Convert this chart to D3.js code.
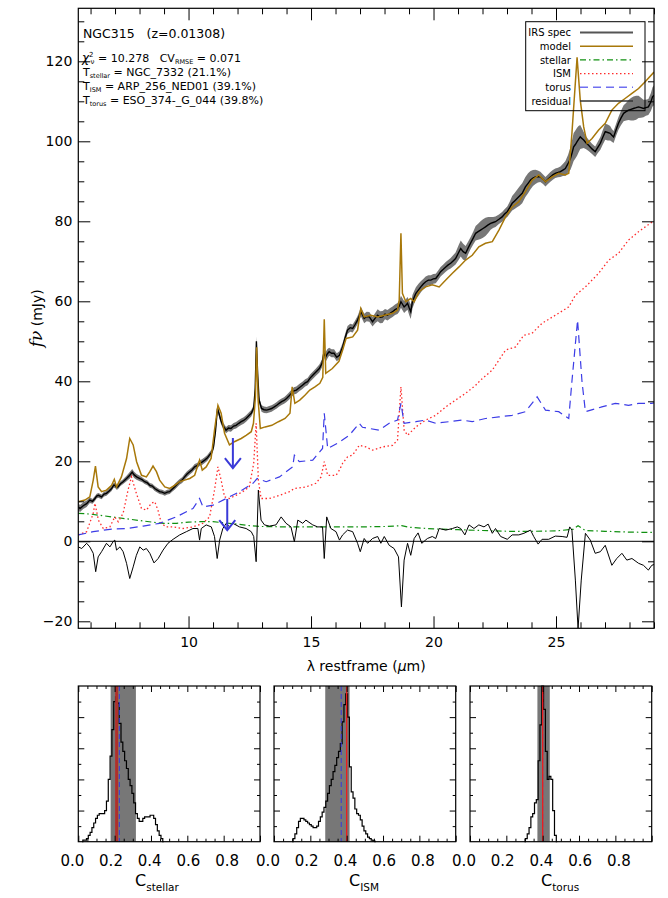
<!DOCTYPE html>
<meta charset="utf-8">
<style>
  body { margin: 0; background: #fff; }
  svg { display: block; }
  text { font-family: "DejaVu Sans", sans-serif; fill: #000; white-space: pre; }
</style>
<body>
<script src="https://d3js.org/d3.v7.min.js"></script>
<script>

// ---- spectrum data ----
var irsWave = [5.50,5.57,5.70,5.84,5.97,6.08,6.18,6.25,6.32,6.45,6.55,6.65,6.76,6.86,6.94,7.00,7.06,7.12,7.22,7.33,7.47,7.60,7.70,7.78,7.88,8.01,8.10,8.21,8.32,8.42,8.52,8.62,8.72,8.82,8.92,9.03,9.13,9.23,9.33,9.43,9.54,9.64,9.74,9.84,9.94,10.05,10.15,10.25,10.35,10.45,10.55,10.66,10.76,10.86,10.95,11.02,11.10,11.18,11.24,11.32,11.40,11.53,11.63,11.73,11.84,11.94,12.05,12.15,12.25,12.35,12.46,12.56,12.66,12.72,12.77,12.82,12.88,12.98,13.08,13.19,13.29,13.39,13.50,13.60,13.70,13.80,13.90,14.00,14.10,14.20,14.30,14.40,14.52,14.65,14.76,14.86,14.96,15.07,15.20,15.34,15.45,15.52,15.60,15.67,15.74,15.84,15.94,16.05,16.16,16.29,16.40,16.49,16.60,16.70,16.80,16.90,17.04,17.17,17.27,17.38,17.51,17.62,17.72,17.82,17.92,18.02,18.12,18.23,18.33,18.43,18.53,18.60,18.67,18.74,18.80,18.87,18.94,19.01,19.07,19.14,19.21,19.28,19.38,19.48,19.58,19.68,19.79,19.89,19.99,20.09,20.19,20.29,20.40,20.50,20.60,20.70,20.80,20.90,21.01,21.11,21.21,21.31,21.41,21.51,21.62,21.72,21.82,21.92,22.02,22.12,22.23,22.33,22.43,22.53,22.67,22.80,22.90,23.01,23.11,23.21,23.31,23.41,23.51,23.62,23.75,23.86,23.96,24.06,24.16,24.26,24.36,24.47,24.57,24.67,24.77,24.87,24.97,25.08,25.18,25.28,25.38,25.49,25.59,25.66,25.72,25.79,25.86,25.92,25.99,26.06,26.13,26.23,26.33,26.47,26.60,26.70,26.81,26.91,27.01,27.11,27.21,27.28,27.35,27.45,27.55,27.65,27.76,27.86,27.96,28.06,28.16,28.27,28.37,28.47,28.57,28.67,28.77,28.87,28.94,29.00];
var irsFlux = [8.6,8.2,8.9,9.4,10.3,10.0,10.7,11.3,11.5,11.1,11.8,12.0,12.6,13.2,14.0,14.0,13.5,13.6,14.4,14.9,15.7,16.5,17.3,16.6,16.1,15.7,15.4,14.9,14.6,14.0,13.8,13.2,12.8,12.4,12.3,12.0,12.3,12.4,13.0,13.6,14.3,14.9,15.3,16.1,16.8,17.4,17.9,18.6,18.9,19.5,19.8,20.3,20.8,21.6,22.3,23.6,27.5,33.2,32.0,30.2,29.0,27.8,28.3,28.2,28.8,29.0,29.5,29.9,30.2,30.7,31.4,32.0,33.3,38.0,50.0,42.0,35.3,33.2,32.9,32.8,33.0,33.2,33.6,34.0,34.5,34.9,35.2,35.7,36.3,37.0,37.6,37.8,38.4,39.0,39.6,39.9,40.8,41.5,42.3,43.2,44.5,47.0,46.1,46.9,47.4,47.0,47.0,46.0,46.5,48.6,51.0,52.8,53.4,53.2,54.2,55.3,57.4,55.7,56.2,56.1,54.9,55.8,56.5,56.0,56.1,56.8,56.5,57.0,57.4,57.9,58.2,58.8,59.9,59.2,58.6,59.0,59.5,58.3,57.4,59.9,61.0,62.0,62.8,63.6,64.3,64.9,65.3,65.3,65.6,65.7,66.5,67.4,68.0,68.6,69.1,69.5,70.1,70.7,72.0,73.2,72.4,72.0,73.3,74.5,75.8,77.0,77.4,77.8,78.2,78.6,79.1,79.5,79.7,79.9,80.5,81.1,81.8,82.4,83.4,84.5,85.1,85.7,86.3,87.0,88.6,89.5,90.3,90.8,91.1,91.2,91.1,90.5,89.9,90.5,91.1,91.6,92.0,92.2,92.4,92.8,93.2,94.4,95.7,97.2,98.6,99.2,99.9,100.5,101.1,100.7,100.3,99.6,99.0,98.1,97.4,98.4,99.5,101.0,102.4,102.2,102.0,101.5,101.1,102.8,104.5,105.8,107.0,107.4,107.8,108.0,108.2,108.4,108.6,108.4,108.2,108.4,108.6,109.8,111.1,111.5];
var irsErr = [0.9,0.9,0.8,0.8,0.7,0.6,0.6,0.6,0.6,0.6,0.6,0.6,0.6,0.6,0.6,0.6,0.6,0.6,0.6,0.6,0.7,0.8,0.8,0.8,0.7,0.7,0.6,0.6,0.6,0.6,0.6,0.6,0.6,0.6,0.6,0.6,0.6,0.6,0.6,0.7,0.7,0.7,0.7,0.7,0.7,0.7,0.7,0.7,0.7,0.7,0.7,0.7,0.7,0.7,0.7,0.8,0.8,0.8,0.8,0.8,0.8,0.8,0.8,0.8,0.8,0.8,0.8,0.8,0.8,0.8,0.8,0.8,0.8,1.0,1.2,1.0,0.8,0.8,0.8,0.8,0.8,0.8,0.8,0.8,0.8,0.8,0.8,0.9,0.9,0.9,0.9,0.9,0.9,0.9,0.9,0.9,0.9,0.9,0.9,1.0,1.0,1.0,1.2,1.2,1.0,1.0,1.0,1.0,1.0,1.0,1.0,1.0,1.0,1.0,1.0,1.0,1.2,1.2,1.2,1.2,1.2,1.3,1.5,1.5,1.5,1.3,1.3,1.3,1.3,1.3,1.4,1.4,1.5,1.5,1.5,1.5,1.6,1.8,1.8,1.7,1.6,1.5,1.5,1.4,1.3,1.3,1.2,1.2,1.2,1.2,1.2,1.2,1.2,1.2,1.2,1.3,1.4,1.5,1.8,2.0,2.0,1.8,1.6,1.5,1.6,1.8,2.0,2.2,2.3,2.3,2.0,1.6,1.4,1.3,1.2,1.2,1.2,1.3,1.5,1.8,2.0,2.2,2.4,2.5,2.5,2.5,2.3,2.0,1.8,1.5,1.3,1.2,1.2,1.2,1.2,1.2,1.2,1.2,1.3,1.5,1.8,2.2,2.8,3.2,3.5,3.5,3.5,3.3,3.0,2.5,2.0,1.6,1.4,1.3,1.3,1.4,1.6,1.8,2.0,2.0,1.8,1.6,1.5,1.5,1.6,1.8,2.0,2.2,2.5,2.8,3.0,3.0,2.8,2.5,2.2,2.0,2.0,2.2,2.4,2.5];

var modelWave = [5.50,5.77,5.97,6.11,6.20,6.31,6.45,6.65,6.86,6.97,7.06,7.26,7.47,7.60,7.74,7.88,8.08,8.28,8.42,8.55,8.69,8.82,9.03,9.23,9.43,9.64,9.84,10.05,10.25,10.45,10.56,10.72,10.92,11.06,11.20,11.33,11.47,11.67,11.87,12.15,12.35,12.56,12.65,12.73,12.78,12.84,12.93,13.13,13.40,13.67,13.94,14.14,14.23,14.34,14.54,14.75,14.95,15.16,15.36,15.48,15.54,15.60,15.87,16.14,16.30,16.43,16.70,16.90,17.03,17.17,17.44,17.72,17.99,18.33,18.53,18.60,18.67,18.73,18.87,19.07,19.21,19.41,19.68,19.95,20.23,20.50,20.77,21.04,21.31,21.58,21.85,22.12,22.40,22.67,22.94,23.21,23.48,23.75,24.03,24.30,24.57,24.84,25.11,25.38,25.52,25.65,25.86,25.99,26.13,26.27,26.47,26.74,27.01,27.28,27.55,27.82,28.10,28.37,28.64,29.00];
var modelFlux = [9.9,10.3,11.1,15.3,18.8,13.6,12.4,12.8,14.0,15.5,13.6,16.1,20.7,25.7,24.1,19.9,16.5,16.1,17.4,18.8,17.4,15.3,13.6,13.2,14.0,14.9,15.3,15.7,16.5,20.3,17.8,18.6,20.7,27.8,34.0,32.0,27.0,24.1,24.9,25.7,26.5,27.4,29.5,36.1,48.5,35.3,28.2,28.6,29.0,29.9,30.7,32.0,38.6,34.5,35.3,36.5,37.8,38.6,39.5,41.0,55.5,42.0,43.2,45.0,48.0,50.7,51.1,52.8,58.2,56.1,56.5,56.1,56.5,57.0,57.8,60.3,77.0,62.0,59.9,60.7,59.9,62.4,63.6,64.1,63.6,65.3,67.0,68.6,70.3,71.5,73.6,74.5,74.9,77.8,81.1,83.6,84.9,87.4,90.3,91.6,89.9,91.1,92.0,91.6,92.0,102.0,121.0,110.3,103.6,99.5,100.7,102.8,104.5,107.8,109.5,110.7,112.0,113.2,114.9,117.3];

var stellarWave = [5.5,6.0,6.5,7.0,7.5,8.0,8.5,9.0,9.5,10.0,10.5,11.0,11.5,12.0,12.5,13.0,14.0,15.0,16.0,17.0,18.0,18.7,19.0,20.0,21.0,22.0,23.0,24.0,25.0,25.7,25.9,26.2,27.0,28.0,29.0];
var stellarFlux = [7.0,6.8,6.4,6.0,5.6,5.2,4.8,4.5,4.5,4.8,4.9,4.9,4.6,4.3,3.9,3.7,3.6,3.6,3.6,3.6,3.7,3.9,3.5,3.1,2.9,2.7,2.5,2.5,2.6,3.0,3.9,2.7,2.5,2.3,2.2];

var ismWave = [5.5,5.84,6.11,6.18,6.32,6.52,6.79,6.99,7.13,7.33,7.53,7.67,7.87,8.08,8.28,8.48,8.62,8.75,8.89,9.09,9.36,9.77,10.18,10.59,10.86,11.06,11.20,11.33,11.47,11.67,11.94,12.21,12.48,12.66,12.76,12.85,12.96,13.30,13.71,14.12,14.32,14.80,15.20,15.41,15.54,15.68,16.02,16.16,16.29,16.49,16.70,16.97,17.24,17.51,17.92,18.33,18.53,18.67,18.80,18.94,19.28,19.68,20.09,20.50,20.90,21.31,21.72,21.92,22.40,22.94,23.35,23.68,24.02,24.43,24.97,25.52,25.79,26.20,26.74,27.15,27.55,27.96,28.37,28.94];
var ismFlux = [1.6,2.4,7.0,9.5,5.3,3.2,3.6,6.1,4.9,7.0,12.8,16.1,12.0,8.2,7.8,9.5,9.9,7.8,4.5,3.6,3.6,3.2,3.6,4.5,6.1,12.8,18.6,15.3,11.1,10.7,11.5,12.4,13.6,19.5,29.5,15.3,10.7,10.7,11.5,12.4,13.2,13.6,14.5,16.1,19.9,16.5,16.5,17.8,19.5,21.1,21.6,24.0,23.6,22.8,23.6,24.0,25.3,38.6,27.8,26.5,28.6,30.3,31.5,33.6,35.3,37.0,39.0,40.3,42.8,47.8,48.6,51.5,52.0,54.5,56.5,58.6,61.5,63.6,67.0,70.3,72.0,75.3,77.4,79.9];

var torusWave = [5.5,6.11,6.79,7.47,8.15,8.82,9.5,10.18,10.45,10.59,11.0,11.54,12.08,12.63,12.8,13.17,13.71,14.25,14.32,14.52,15.07,15.47,15.54,15.68,16.16,16.56,16.97,17.10,17.38,17.78,18.19,18.53,18.67,18.80,19.28,19.68,20.09,20.63,21.18,21.58,22.12,22.67,23.21,23.75,24.23,24.57,25.11,25.52,25.65,25.88,26.06,26.20,26.87,27.42,27.96,28.37,28.91,29.0];
var torusFlux = [1.6,2.4,3.0,3.2,3.8,4.5,6.1,8.2,10.7,8.6,9.05,10.7,12.4,14.5,15.7,14.9,16.1,18.6,21.5,19.9,20.3,23.2,32.0,23.2,24.8,26.5,29.5,28.5,28.2,27.8,29.5,30.3,34.5,29.5,29.9,30.3,29.5,29.9,30.3,29.9,30.7,31.1,31.5,32.4,36.1,32.8,32.4,30.7,40.0,55.3,40.0,32.4,33.6,34.5,34.0,34.5,34.5,34.6];

var residWave = [5.50,5.64,5.84,5.97,6.11,6.21,6.31,6.45,6.65,6.79,6.92,6.99,7.06,7.20,7.33,7.47,7.60,7.74,7.87,8.01,8.15,8.28,8.42,8.59,8.76,8.96,9.16,9.37,9.64,9.91,10.18,10.38,10.45,10.52,10.72,10.93,11.06,11.17,11.27,11.40,11.54,11.67,11.81,12.08,12.35,12.56,12.66,12.76,12.85,12.96,13.10,13.30,13.57,13.78,13.98,14.18,14.32,14.46,14.66,14.79,15.07,15.27,15.47,15.54,15.64,15.81,16.02,16.16,16.29,16.49,16.70,16.90,17.01,17.17,17.31,17.51,17.72,17.85,17.99,18.19,18.39,18.57,18.69,18.80,18.94,19.07,19.21,19.37,19.52,19.75,19.95,20.09,20.23,20.50,20.77,20.97,21.11,21.28,21.45,21.65,21.85,22.06,22.23,22.40,22.53,22.74,23.01,23.21,23.48,23.69,23.96,24.09,24.27,24.43,24.70,24.97,25.25,25.45,25.56,25.65,25.79,25.90,26.03,26.20,26.40,26.60,26.81,27.01,27.28,27.48,27.69,27.89,28.10,28.37,28.57,28.77,28.91,29.00];
var residFlux = [-1.4,-1.8,-0.5,-1.4,-3.0,-7.6,-3.9,-2.6,-0.5,-1.4,-0.1,0.3,-2.2,-1.4,-2.6,-5.5,-9.3,-6.4,-3.5,-1.4,-2.2,-1.8,-3.0,-5.4,-4.3,-2.2,-0.5,0.5,1.6,2.4,3.2,3.2,0.3,3.2,4.1,3.6,1.2,-4.3,0.3,3.2,4.5,3.6,4.5,3.6,3.2,2.4,1.2,-5.1,12.8,5.3,4.1,3.8,4.1,6.1,4.5,3.6,-0.1,5.3,4.5,5.3,4.1,3.6,3.6,-4.3,6.1,3.2,2.4,0.3,1.6,2.8,2.4,-0.5,-2.6,0.7,-0.5,0.7,1.2,-0.5,1.2,-1.0,-1.8,-3.9,-16.4,-4.7,-0.5,-3.5,0.7,2.1,-0.5,0.7,1.2,0.7,3.2,2.8,3.2,3.6,3.2,1.6,4.1,3.2,4.1,3.6,4.3,2.0,3.2,1.2,0.5,1.6,1.6,2.0,2.8,1.2,-0.7,0.5,0.5,1.3,1.2,1.0,3.6,2.8,-9.7,-21.8,-9.7,2.0,0.3,-3.0,-2.6,-1.0,-6.0,-4.3,-3.0,-4.7,-4.3,-5.5,-6.0,-7.2,-6.0,-5.8];

// blue arrows (wavelength, start flux, tip flux)
var arrowWave = [11.81, 11.58];
var arrowFrom = [25.8, 10.6];
var arrowTo = [18.3, 2.8];

var legendLabels = ["IRS spec", "model", "stellar", "ISM", "torus", "residual"];

// ---- histogram data (bin centres, normalised counts) ----
var stellarBins = [0.02,0.03,0.04,0.05,0.06,0.07,0.08,0.09,0.10,0.11,0.12,0.13,0.14,0.15,0.16,0.17,0.18,0.19,0.20,0.21,0.22,0.23,0.24,0.25,0.26,0.27,0.28,0.29,0.30,0.31,0.32,0.33,0.34,0.35,0.36,0.37,0.38,0.39,0.40,0.41,0.42,0.43,0.44,0.45,0.46,0.47];
var stellarHist = [0,0.01,0.01,0.02,0.04,0.06,0.09,0.12,0.15,0.17,0.18,0.18,0.18,0.20,0.26,0.40,0.55,0.72,0.90,0.93,0.89,0.76,0.64,0.58,0.52,0.47,0.40,0.36,0.31,0.25,0.18,0.15,0.13,0.13,0.15,0.16,0.16,0.16,0.17,0.17,0.15,0.11,0.07,0.04,0.02,0];
var ismBins = [0.10,0.11,0.12,0.13,0.14,0.15,0.16,0.17,0.18,0.19,0.20,0.21,0.22,0.23,0.24,0.25,0.26,0.27,0.28,0.29,0.30,0.31,0.32,0.33,0.34,0.35,0.36,0.37,0.38,0.39,0.40,0.41,0.42,0.43,0.44,0.45,0.46,0.47,0.48,0.49,0.50,0.51,0.52,0.53,0.54,0.55,0.56];
var ismHist = [0,0.02,0.05,0.09,0.13,0.15,0.15,0.14,0.13,0.12,0.11,0.10,0.09,0.09,0.10,0.13,0.16,0.19,0.22,0.26,0.31,0.36,0.40,0.45,0.49,0.54,0.58,0.63,0.77,0.88,0.95,0.80,0.48,0.32,0.28,0.21,0.18,0.17,0.14,0.10,0.07,0.05,0.03,0.02,0.01,0.005,0];
var torusBins = [0.30,0.31,0.32,0.33,0.34,0.35,0.36,0.37,0.38,0.39,0.40,0.41,0.42,0.43,0.44,0.45,0.46,0.47,0.48];
var torusHist = [0,0.02,0.05,0.09,0.16,0.18,0.25,0.27,0.52,0.75,1.00,0.85,0.58,0.40,0.42,0.40,0.20,0.04,0];

var panelNames = ["stellar", "ISM", "torus"];
var panelBest = [0.211, 0.400, 0.400];
var panelMedian = [0.226, 0.370, 0.400];
var panelLow = [0.178, 0.282, 0.371];
var panelHigh = [0.317, 0.416, 0.439];

// ---- set up ----
var svg = d3.select("body").append("svg").attr("width", 668).attr("height", 898);

var m = {left: 78.3, right: 654, top: 8.3, bottom: 628.3};
var x = d3.scaleLinear().domain([5.5, 29.0]).range([m.left, m.right]);
var y = d3.scaleLinear().domain([-21.75, 133.25]).range([m.bottom, m.top]);

svg.append("clipPath").attr("id", "clip").append("rect")
    .attr("x", m.left).attr("y", m.top)
    .attr("width", m.right - m.left).attr("height", m.bottom - m.top);

var plot = svg.append("g").attr("clip-path", "url(#clip)");

function pts(w, f) { return w.map(function(d, i) { return {w: d, f: f[i]}; }); }
var line = d3.line().x(function(d) { return x(d.w); }).y(function(d) { return y(d.f); });

// uncertainty band of the IRS spectrum
var irs = irsWave.map(function(d, i) { return {w: d, f: irsFlux[i], e: irsErr[i]}; });
plot.append("path").datum(irs)
    .attr("d", d3.area().x(function(d) { return x(d.w); })
        .y0(function(d) { return y(d.f - d.e); })
        .y1(function(d) { return y(d.f + d.e); }))
    .attr("fill", "#777");

// components
plot.append("path").datum(pts(stellarWave, stellarFlux)).attr("d", line)
    .attr("fill", "none").attr("stroke", "#109010").attr("stroke-width", 1.2)
    .attr("stroke-dasharray", "6,3,1.5,3");
plot.append("path").datum(pts(ismWave, ismFlux)).attr("d", line)
    .attr("fill", "none").attr("stroke", "#ff2a2a").attr("stroke-width", 1.3)
    .attr("stroke-dasharray", "1.5,2.5");
plot.append("path").datum(pts(torusWave, torusFlux)).attr("d", line)
    .attr("fill", "none").attr("stroke", "#3c3ce6").attr("stroke-width", 1.2)
    .attr("stroke-dasharray", "8,5");

// spectrum and model
plot.append("path").datum(irs).attr("d", line)
    .attr("fill", "none").attr("stroke", "#000").attr("stroke-width", 1.4);
plot.append("path").datum(pts(modelWave, modelFlux)).attr("d", line)
    .attr("fill", "none").attr("stroke", "#a8780a").attr("stroke-width", 1.5);

// residual and zero line
plot.append("line").attr("x1", m.left).attr("x2", m.right)
    .attr("y1", y(0)).attr("y2", y(0)).attr("stroke", "#000");
plot.append("path").datum(pts(residWave, residFlux)).attr("d", line)
    .attr("fill", "none").attr("stroke", "#000").attr("stroke-width", 1);

// arrows
arrowWave.forEach(function(w, i) {
  var ax = x(w), y0 = y(arrowFrom[i]), y1 = y(arrowTo[i]);
  var g = plot.append("g").attr("stroke", "#3a3ad8").attr("stroke-width", 2).attr("fill", "none");
  g.append("line").attr("x1", ax).attr("x2", ax).attr("y1", y0).attr("y2", y1);
  g.append("path").attr("d", "M" + (ax - 8) + "," + (y1 - 10) + "L" + ax + "," + y1 + "L" + (ax + 8) + "," + (y1 - 10));
});

// axes
function styleAxis(g, size) {
  g.select(".domain").remove();
  g.selectAll("line").attr("stroke", "#000");
  g.selectAll("text").attr("font-family", "DejaVu Sans").attr("font-size", size || 14).attr("fill", "#000");
}
var xMajor = [10, 15, 20, 25];
var xMinor = d3.range(6, 30).filter(function(v) { return v % 5 !== 0; });
var yMajor = d3.range(-20, 121, 20);
var yMinor = d3.range(-20, 134, 5).filter(function(v) { return v % 20 !== 0; });

svg.append("g").attr("transform", "translate(0," + m.bottom + ")")
    .call(d3.axisBottom(x).tickValues(xMajor).tickSize(-12).tickPadding(9)).call(styleAxis);
svg.append("g").attr("transform", "translate(0," + m.bottom + ")")
    .call(d3.axisBottom(x).tickValues(xMinor).tickSize(-6).tickFormat("")).call(styleAxis);
svg.append("g").attr("transform", "translate(0," + m.top + ")")
    .call(d3.axisTop(x).tickValues(xMajor).tickSize(-12).tickFormat("")).call(styleAxis);
svg.append("g").attr("transform", "translate(0," + m.top + ")")
    .call(d3.axisTop(x).tickValues(xMinor).tickSize(-6).tickFormat("")).call(styleAxis);
svg.append("g").attr("transform", "translate(" + m.left + ",0)")
    .call(d3.axisLeft(y).tickValues(yMajor).tickSize(-12).tickPadding(6)).call(styleAxis);
svg.append("g").attr("transform", "translate(" + m.left + ",0)")
    .call(d3.axisLeft(y).tickValues(yMinor).tickSize(-6).tickFormat("")).call(styleAxis);
svg.append("g").attr("transform", "translate(" + m.right + ",0)")
    .call(d3.axisRight(y).tickValues(yMajor).tickSize(-12).tickFormat("")).call(styleAxis);
svg.append("g").attr("transform", "translate(" + m.right + ",0)")
    .call(d3.axisRight(y).tickValues(yMinor).tickSize(-6).tickFormat("")).call(styleAxis);

svg.append("rect").attr("x", m.left).attr("y", m.top)
    .attr("width", m.right - m.left).attr("height", m.bottom - m.top)
    .attr("fill", "none").attr("stroke", "#000").attr("stroke-width", 1.2);

// axis titles
var xt = svg.append("text").attr("x", (m.left + m.right) / 2).attr("y", 671)
    .attr("text-anchor", "middle").attr("font-size", 14);
xt.append("tspan").text("\u03bb restframe (");
xt.append("tspan").attr("font-style", "italic").text("\u03bc");
xt.append("tspan").text("m)");

var yt = svg.append("text").attr("transform", "translate(42," + (m.top + m.bottom) / 2 + ") rotate(-90)")
    .attr("text-anchor", "middle").attr("font-size", 14);
yt.append("tspan").attr("font-family", "DejaVu Serif").attr("font-style", "italic").attr("font-size", 17).text("f\u03bd");
yt.append("tspan").text(" (mJy)");

// info text
var info = svg.append("g");
info.append("text").attr("x", 83).attr("y", 38).attr("font-size", 12.5).text("NGC315   (z=0.01308)");
var l2 = info.append("text").attr("x", 82).attr("y", 61.5).attr("font-size", 11);
l2.append("tspan").attr("font-style", "italic").attr("font-size", 12).text("\u03c7");
l2.append("tspan").attr("font-size", 7).attr("dy", -5).text("2");
l2.append("tspan").attr("font-size", 7).attr("dy", 7).attr("dx", -3).text("\u03bd");
l2.append("tspan").attr("dy", -2).text(" = 10.278   CV");
l2.append("tspan").attr("font-size", 6.5).attr("dy", 2.5).text("RMSE");
l2.append("tspan").attr("dy", -2.5).text(" = 0.071");

var tLines = [["stellar", " = NGC_7332 (21.1%)", 75.5], ["ISM", " = ARP_256_NED01 (39.1%)", 90], ["torus", " = ESO_374-_G_044 (39.8%)", 104]];
tLines.forEach(function(t) {
  var tx = info.append("text").attr("x", 83).attr("y", t[2]).attr("font-size", 11);
  tx.append("tspan").text("T");
  tx.append("tspan").attr("font-size", 6.5).attr("dy", 2).text(t[0]);
  tx.append("tspan").attr("dy", -2).text(t[1]);
});

// legend
var lg = svg.append("g");
lg.append("rect").attr("x", 525.7).attr("y", 21.7).attr("width", 119.3).attr("height", 89)
    .attr("fill", "none").attr("stroke", "#000").attr("stroke-width", 1);
var legStroke = ["#555", "#a8780a", "#109010", "#ff2a2a", "#7070f0", "#333"];
var legDash = [null, null, "6,3,1.5,3", "1.5,2.5", "8,5", null];
var legWidth = [2, 1.5, 1.2, 1.3, 1.5, 1.5];
legendLabels.forEach(function(lab, i) {
  var ly = 32.5 + i * 13.7;
  lg.append("text").attr("x", 571).attr("y", ly + 3.8).attr("text-anchor", "end").attr("font-size", 10).text(lab);
  lg.append("line").attr("x1", 580).attr("x2", 633).attr("y1", ly).attr("y2", ly)
      .attr("stroke", legStroke[i]).attr("stroke-width", legWidth[i])
      .attr("stroke-dasharray", legDash[i]);
});

// ---- histogram panels ----
var hp = {top: 686, bottom: 841.7, width: 181.7, lefts: [78.3, 274, 470]};
var hists = [[stellarBins, stellarHist], [ismBins, ismHist], [torusBins, torusHist]];
var hy = d3.scaleLinear().domain([0, 1]).range([hp.bottom, hp.top]);

hists.forEach(function(h, i) {
  var left = hp.lefts[i];
  var hx = d3.scaleLinear().domain([0, 1]).range([left, left + hp.width]);
  var lx = d3.scaleLinear().domain([0, 1]).range([left - 6.5, left + 187]);
  var g = svg.append("g");

  g.append("rect").attr("x", hx(panelLow[i])).attr("y", hp.top)
      .attr("width", hx(panelHigh[i]) - hx(panelLow[i])).attr("height", hp.bottom - hp.top)
      .attr("fill", "#777");

  g.append("path").datum(h[0].map(function(c, j) { return [c, h[1][j]]; }))
      .attr("d", d3.line().x(function(d) { return hx(d[0]); }).y(function(d) { return hy(d[1]); }).curve(d3.curveStep))
      .attr("fill", "none").attr("stroke", "#000").attr("stroke-width", 1.2);

  g.append("line").attr("x1", hx(panelMedian[i])).attr("x2", hx(panelMedian[i]))
      .attr("y1", hp.top).attr("y2", hp.bottom)
      .attr("stroke", "#3a3ad8").attr("stroke-width", 1).attr("stroke-dasharray", "5,3");
  g.append("line").attr("x1", hx(panelBest[i])).attr("x2", hx(panelBest[i]))
      .attr("y1", hp.top).attr("y2", hp.bottom)
      .attr("stroke", i === 0 ? "#b0302a" : "#ee1c1c").attr("stroke-width", i === 0 ? 3 : 1.3);

  var major = [0, 0.2, 0.4, 0.6, 0.8, 1.0];
  var minor = d3.range(0.05, 1, 0.05).filter(function(v) { return Math.abs(v * 5 - Math.round(v * 5)) > 1e-6; });
  var yMaj = [0.2, 0.4, 0.6, 0.8], yMin = [0.1, 0.3, 0.5, 0.7, 0.9];
  g.append("g").attr("transform", "translate(0," + hp.bottom + ")")
      .call(d3.axisBottom(hx).tickValues(major).tickSize(-6).tickFormat("")).call(styleAxis);
  g.append("g").attr("transform", "translate(0," + hp.bottom + ")")
      .call(d3.axisBottom(hx).tickValues(minor).tickSize(-3).tickFormat("")).call(styleAxis);
  g.append("g").attr("transform", "translate(0," + hp.top + ")")
      .call(d3.axisTop(hx).tickValues(major).tickSize(-6).tickFormat("")).call(styleAxis);
  g.append("g").attr("transform", "translate(0," + hp.top + ")")
      .call(d3.axisTop(hx).tickValues(minor).tickSize(-3).tickFormat("")).call(styleAxis);
  g.append("g").attr("transform", "translate(" + left + ",0)")
      .call(d3.axisLeft(hy).tickValues(yMaj).tickSize(-6).tickFormat("")).call(styleAxis);
  g.append("g").attr("transform", "translate(" + left + ",0)")
      .call(d3.axisLeft(hy).tickValues(yMin).tickSize(-3).tickFormat("")).call(styleAxis);
  g.append("g").attr("transform", "translate(" + (left + hp.width) + ",0)")
      .call(d3.axisRight(hy).tickValues(yMaj).tickSize(-6).tickFormat("")).call(styleAxis);
  g.append("g").attr("transform", "translate(" + (left + hp.width) + ",0)")
      .call(d3.axisRight(hy).tickValues(yMin).tickSize(-3).tickFormat("")).call(styleAxis);

  // tick labels
  g.append("g").attr("transform", "translate(0," + hp.bottom + ")")
      .call(d3.axisBottom(lx).tickValues([0, 0.2, 0.4, 0.6, 0.8]).tickSize(0).tickPadding(14)
          .tickFormat(d3.format(".1f")))
      .call(function(a) { styleAxis(a, 15); a.selectAll("line").remove(); });

  g.append("rect").attr("x", left).attr("y", hp.top).attr("width", hp.width).attr("height", hp.bottom - hp.top)
      .attr("fill", "none").attr("stroke", "#000").attr("stroke-width", 1.2);

  var starts = [135, 349, 541];
  var ct = g.append("text").attr("x", starts[i]).attr("y", 886).attr("font-size", 16);
  ct.append("tspan").text("C");
  ct.append("tspan").attr("font-size", 10.5).attr("dy", 5).text(panelNames[i]);
});

</script>
</body>
